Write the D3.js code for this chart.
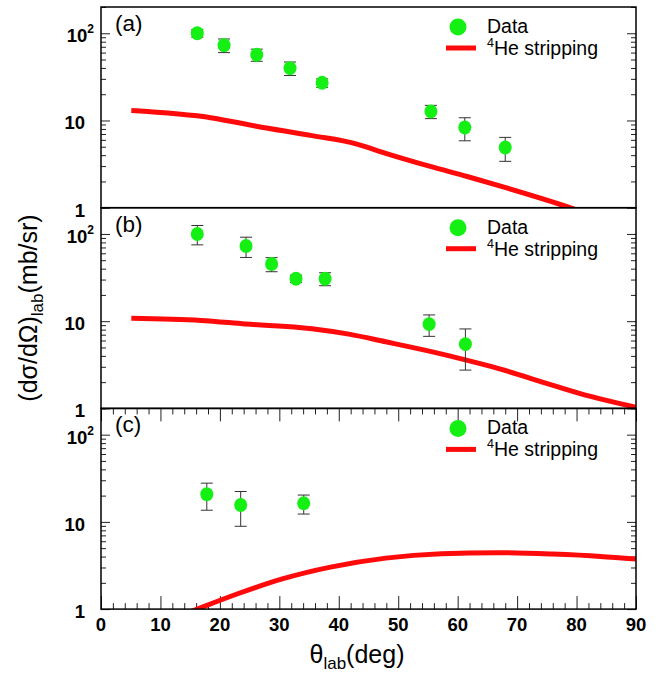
<!DOCTYPE html>
<html>
<head>
<meta charset="utf-8">
<script src="https://cdn.jsdelivr.net/npm/d3@7"></script>
<style>
  body { margin: 0; background: #fff; }
  text { font-family: "Liberation Sans", Arial, Helvetica, sans-serif; }
</style>
</head>
<body>
<div id="chart"></div>
<script>
// panel (a) measured points
const thetaA = [16.2, 20.7, 26.2, 31.8, 37.2, 55.5, 61.2, 68.0]
const dataA = [100, 73, 56.7, 39.8, 27, 12.7, 8.3, 4.9]
const errA = [10, 13, 9, 7, 3, 2.2, 2.45, 1.5]
// panel (b)
const thetaB = [16.2, 24.4, 28.7, 32.8, 37.7, 55.2, 61.3]
const dataB = [100, 72.8, 45.2, 30.7, 30.7, 9.25, 5.45]
const errB = [25, 19, 8.3, 3, 5.2, 2.55, 2.7]
// panel (c)
const thetaC = [17.8, 23.5, 34.1]
const dataC = [20.7, 15.6, 16.3]
const errC = [7.1, 6.7, 4.0]

// 4He stripping curves
const curveThetaA = [5.1, 18.7, 26.1, 35.5, 42.9, 47.9, 55.4, 61.6, 67.8, 78.4, 85, 90]
const curveA = [13.0, 10.7, 8.6, 6.7, 5.4, 4.2, 2.97, 2.28, 1.72, 1.03, 0.72, 0.55]
const curveThetaB = [5.1, 16.8, 24.3, 35.5, 41.7, 47.9, 55.4, 61.3, 66.6, 75.9, 82.2, 90]
const curveB = [10.8, 10.2, 9.3, 8.2, 7.1, 5.8, 4.5, 3.6, 2.9, 1.85, 1.38, 1.03]
const curveThetaC = [10, 16.2, 23.0, 30.5, 38.6, 47.9, 57.3, 66.6, 75.9, 84.0, 90]
const curveC = [0.68, 1.0, 1.5, 2.22, 3.03, 3.84, 4.31, 4.43, 4.27, 4.02, 3.74]

const panelTags = ['(a)', '(b)', '(c)']
const xTicks = [0, 10, 20, 30, 40, 50, 60, 70, 80, 90]
const yMajor = [1, 10, 100]
const yMinor = [2, 3, 4, 5, 6, 7, 8, 9, 20, 30, 40, 50, 60, 70, 80, 90, 200]

const width = 670
const height = 675
const left = 101, right = 636
const top0 = 7, panelH = 200.7

const green = '#14f014'
const red = '#ff0a0a'

const svg = d3.select('#chart').append('svg')
    .attr('width', width)
    .attr('height', height)

const x = d3.scaleLinear().domain([0, 90]).range([left, right])

const panels = [
    { theta: thetaA, val: dataA, err: errA, cx: curveThetaA, cy: curveA },
    { theta: thetaB, val: dataB, err: errB, cx: curveThetaB, cy: curveB },
    { theta: thetaC, val: dataC, err: errC, cx: curveThetaC, cy: curveC }
]

panels.forEach((p, i) => {
    const pt = top0 + i * panelH
    const pb = pt + panelH
    const y = d3.scaleLog().domain([1, 200]).range([pb, pt])
    const g = svg.append('g')

    g.append('clipPath').attr('id', 'clip' + i)
        .append('rect')
        .attr('x', left).attr('y', pt)
        .attr('width', right - left).attr('height', panelH)

    // y ticks, inside on both sides
    const tickStyle = sel => {
        sel.select('.domain').remove()
        sel.selectAll('line').attr('stroke', '#222').attr('stroke-width', 1)
    }
    g.append('g').attr('transform', `translate(${left},0)`)
        .call(d3.axisRight(y).tickValues(yMajor).tickSize(9).tickFormat(''))
        .call(tickStyle)
    g.append('g').attr('transform', `translate(${left},0)`)
        .call(d3.axisRight(y).tickValues(yMinor).tickSize(5).tickFormat(''))
        .call(tickStyle)
    g.append('g').attr('transform', `translate(${right},0)`)
        .call(d3.axisLeft(y).tickValues(yMajor).tickSize(9).tickFormat(''))
        .call(tickStyle)
    g.append('g').attr('transform', `translate(${right},0)`)
        .call(d3.axisLeft(y).tickValues(yMinor).tickSize(5).tickFormat(''))
        .call(tickStyle)

    // y tick labels
    yMajor.forEach(v => {
        const t = g.append('text')
            .attr('x', v === 100 ? 94 : 85)
            .attr('y', y(v) + 9)
            .attr('text-anchor', 'end')
            .attr('font-size', 18.5)
            .attr('font-weight', 'bold')
        if (v === 100) {
            t.append('tspan').text('10')
            t.append('tspan').attr('font-size', 12).attr('dy', -9).text('2')
        } else {
            t.text(v)
        }
    })

    // x ticks only on the bottom panel
    if (i === 2) {
        const xMinor = d3.range(0, 91, 2).filter(d => d % 10 !== 0)
        g.append('g').attr('transform', `translate(0,${pb})`)
            .call(d3.axisTop(x).tickValues(xTicks).tickSize(13).tickFormat(''))
            .call(tickStyle)
        g.append('g').attr('transform', `translate(0,${pb})`)
            .call(d3.axisTop(x).tickValues(xMinor).tickSize(6).tickFormat(''))
            .call(tickStyle)
        g.append('g').attr('transform', `translate(0,${pt})`)
            .call(d3.axisBottom(x).tickValues(xTicks).tickSize(13).tickFormat(''))
            .call(tickStyle)
        g.append('g').attr('transform', `translate(0,${pt})`)
            .call(d3.axisBottom(x).tickValues(xMinor).tickSize(6).tickFormat(''))
            .call(tickStyle)

        g.selectAll('.xlab').data(xTicks).enter().append('text')
            .attr('x', d => x(d))
            .attr('y', pb + 22)
            .attr('text-anchor', 'middle')
            .attr('font-size', 18.5)
            .attr('font-weight', 'bold')
            .text(d => d)
    }

    // theory curve
    const line = d3.line()
        .x(d => x(d[0]))
        .y(d => y(d[1]))
        .curve(d3.curveMonotoneX)
    g.append('path')
        .datum(d3.zip(p.cx, p.cy))
        .attr('d', line)
        .attr('fill', 'none')
        .attr('stroke', red)
        .attr('stroke-width', 5)
        .attr('clip-path', `url(#clip${i})`)

    // error bars
    const pts = d3.zip(p.theta, p.val, p.err)
    const eb = g.selectAll('.eb').data(pts).enter().append('g')
        .attr('stroke', '#333').attr('stroke-width', 1)
    eb.append('line')
        .attr('x1', d => x(d[0])).attr('x2', d => x(d[0]))
        .attr('y1', d => y(d[1] + d[2])).attr('y2', d => y(d[1] - d[2]))
    eb.append('line')
        .attr('x1', d => x(d[0]) - 6).attr('x2', d => x(d[0]) + 6)
        .attr('y1', d => y(d[1] + d[2])).attr('y2', d => y(d[1] + d[2]))
    eb.append('line')
        .attr('x1', d => x(d[0]) - 6).attr('x2', d => x(d[0]) + 6)
        .attr('y1', d => y(d[1] - d[2])).attr('y2', d => y(d[1] - d[2]))

    // markers
    g.selectAll('.pt').data(pts).enter().append('ellipse')
        .attr('cx', d => x(d[0]))
        .attr('cy', d => y(d[1]))
        .attr('rx', 6.5).attr('ry', 7)
        .attr('fill', green)

    // frame
    g.append('rect')
        .attr('x', left).attr('y', pt)
        .attr('width', right - left).attr('height', panelH)
        .attr('fill', 'none').attr('stroke', '#000').attr('stroke-width', 1.5)

    // panel tag
    g.append('text')
        .attr('x', 115).attr('y', pt + 24)
        .attr('font-size', 22.5)
        .text(panelTags[i])

    // legend
    g.append('circle').attr('cx', 458).attr('cy', pt + 20).attr('r', 8.5).attr('fill', green)
    g.append('text').attr('x', 487).attr('y', pt + 26).attr('font-size', 19.5).text('Data')
    g.append('line')
        .attr('x1', 446).attr('x2', 476)
        .attr('y1', pt + 41).attr('y2', pt + 41)
        .attr('stroke', red).attr('stroke-width', 5)
    const lt = g.append('text').attr('x', 487).attr('y', pt + 48).attr('font-size', 19.5)
    lt.append('tspan').attr('font-size', 12.5).attr('dy', -8).text('4')
    lt.append('tspan').attr('dy', 8).text('He stripping')
})

// axis titles
const xt = svg.append('text')
    .attr('x', 357).attr('y', 663)
    .attr('text-anchor', 'middle')
    .attr('font-size', 25)
xt.append('tspan').text('θ')
xt.append('tspan').attr('font-size', 17).attr('dy', 6).text('lab')
xt.append('tspan').attr('dy', -6).text('(deg)')

const yt = svg.append('text')
    .attr('transform', 'translate(37,308) rotate(-90)')
    .attr('text-anchor', 'middle')
    .attr('font-size', 25)
yt.append('tspan').text('(dσ/dΩ)')
yt.append('tspan').attr('font-size', 17).attr('dy', 6).text('lab')
yt.append('tspan').attr('dy', -6).text('(mb/sr)')
</script>
</body>
</html>
